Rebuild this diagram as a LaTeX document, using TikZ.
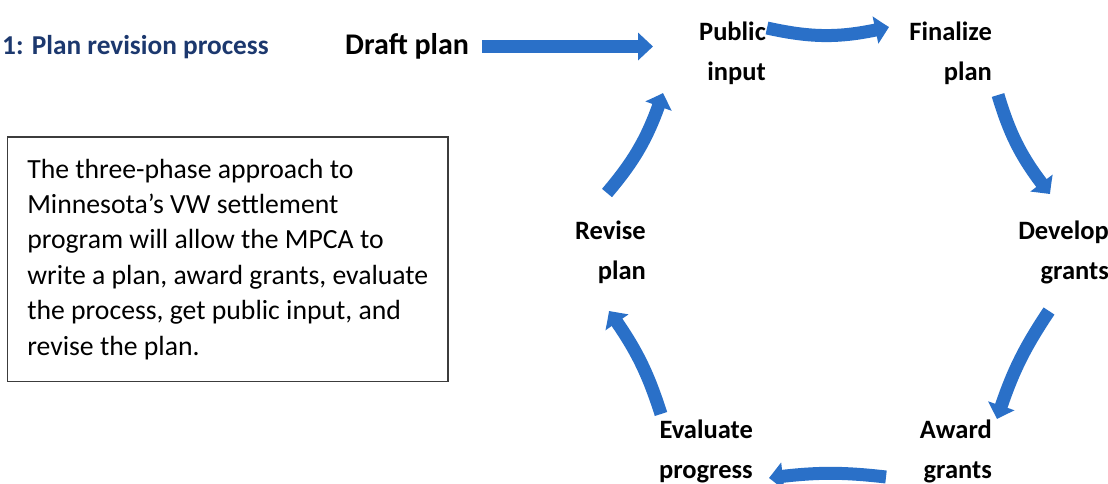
\documentclass[tikz,border=0pt]{standalone}
\usepackage{fontspec}
\setmainfont{Carlito}
\usetikzlibrary{arrows.meta,bending}
\definecolor{flowblue}{RGB}{42,112,200}
\definecolor{titlenavy}{RGB}{28,56,110}
\definecolor{boxgray}{RGB}{60,60,60}
\begin{document}
\begin{tikzpicture}[x=1pt,y=-1pt,
  stage/.style={font=\fontsize{26.5}{40}\selectfont\bfseries, align=right, inner sep=0pt, anchor=east},
  flow/.style={draw=flowblue, line width=13pt, -{Triangle[width=27pt,length=14pt,bend]}},
  startflow/.style={draw=flowblue, line width=13pt, -{Triangle[width=27pt,length=15pt]}},
]
\useasboundingbox (0,0) rectangle (1108,483);

% heading and starting step
\node[font=\fontsize{27.3}{30}\selectfont\bfseries, text=titlenavy, anchor=base west, inner sep=0pt]
  (title) at (2,54) {1: Plan revision process};
\node[font=\fontsize{30}{34}\selectfont\bfseries, anchor=base west, inner sep=0pt]
  (draft) at (345,54) {Draft plan};

% description box
\node[draw=boxgray, line width=1.8pt, minimum width=440.5pt, minimum height=244.5pt,
  align=left, font=\fontsize{27.7}{35.4}\selectfont] (desc) at (227.75,259.25)
  {The three-phase approach to\\Minnesota’s VW settlement\\program will allow the MPCA to\\write a plan, award grants, evaluate\\the process, get public input, and\\revise the plan.};

% steps of the cycle
\node[stage] (pub) at (766,53) {Public\\input};
\node[stage] (fin) at (992,53) {Finalize\\plan};
\node[stage] (dev) at (1109,252) {Develop\\grants};
\node[stage] (awd) at (992,451) {Award\\grants};
\node[stage] (eva) at (753,451) {Evaluate\\progress};
\node[stage] (rev) at (646,252) {Revise\\plan};

% arrow end points
\coordinate (ds) at (482,46.5);
\coordinate (de) at (653,46.5);
\coordinate (a1s) at (767,28);
\coordinate (a1e) at (889,27);
\coordinate (a2s) at (998,95);
\coordinate (a2e) at (1050,194);
\coordinate (a3s) at (1049,311);
\coordinate (a3e) at (997,419);
\coordinate (a4s) at (886,477);
\coordinate (a4e) at (769,478);
\coordinate (a5s) at (661,414);
\coordinate (a5e) at (609,311);
\coordinate (a6s) at (607,193);
\coordinate (a6e) at (663,93);

\draw[startflow] (ds) -- (de);
\draw[flow] (a1s) to[bend right=13] (a1e);
\draw[flow] (a2s) to[bend right=11] (a2e);
\draw[flow] (a3s) to[bend right=8] (a3e);
\draw[flow] (a4s) to[bend right=7] (a4e);
\draw[flow] (a5s) to[bend right=9] (a5e);
\draw[flow] (a6s) to[bend right=11] (a6e);
\end{tikzpicture}
\end{document}
